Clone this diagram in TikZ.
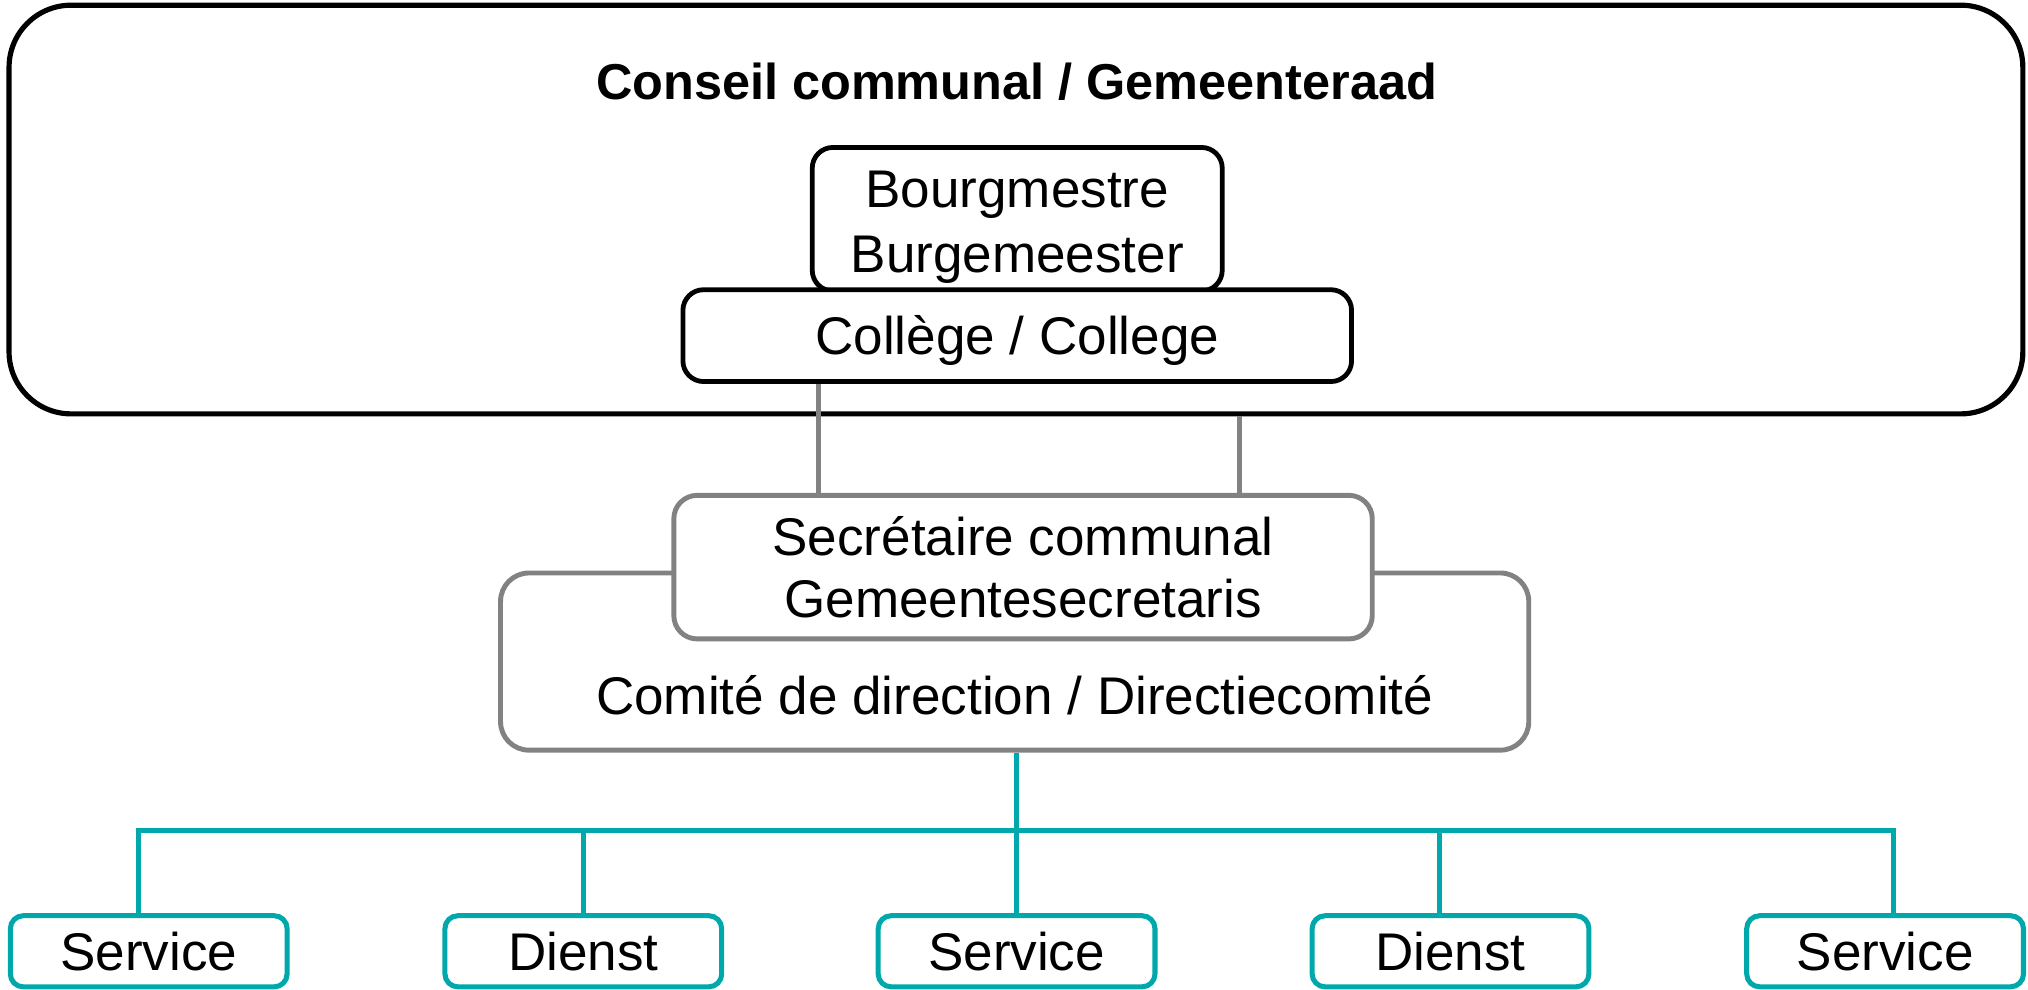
\documentclass[tikz,border=0pt]{standalone}
\usepackage{fontspec}
\setmainfont{Liberation Sans}
\definecolor{linegray}{RGB}{130,130,130}
\definecolor{tealline}{RGB}{0,168,172}
\begin{document}
\begin{tikzpicture}[x=1pt,y=-1pt,
  every node/.style={font=\fontsize{41}{50}\selectfont},
  council/.style={draw=black, line width=4pt, rounded corners=48pt,
    minimum width=1557pt, minimum height=316pt, inner sep=0pt},
  blackbox/.style={draw=black, fill=white, line width=3.7pt, rounded corners=16pt, inner sep=0pt},
  graybox/.style={draw=linegray, fill=white, line width=3.8pt, rounded corners=18pt, inner sep=0pt},
  servicebox/.style={draw=tealline, fill=white, line width=3.9pt, rounded corners=10pt,
    minimum width=214pt, minimum height=55pt, inner sep=0pt, text height=29.3pt, text depth=0pt},
  txt/.style={anchor=base, inner sep=0pt},
  grayconn/.style={draw=linegray, line width=3.8pt},
  tealconn/.style={draw=tealline, line width=3.9pt},
]
\useasboundingbox (0,0) rectangle (1568,765);

% council frame and its title
\node[council] (council) at (785.5,162) {};
\node[txt, font=\bfseries\fontsize{39}{46}\selectfont] (title) at (786,77) {Conseil communal / Gemeenteraad};

% mayor and college
\node[blackbox, minimum width=317pt, minimum height=111pt] (mayor) at (786.5,169.5) {};
\node[txt] (mayor1) at (786.5,160.5) {Bourgmestre};
\node[txt] (mayor2) at (786.5,210.5) {Burgemeester};
\node[blackbox, minimum width=517pt, minimum height=71pt, text height=29.3pt, text depth=0pt] (college) at (786.5,259.5) {Collège / College};

% links down to the secretary
\coordinate (gl) at (633,0);
\coordinate (gr) at (958,0);
\node[graybox, minimum width=795pt, minimum height=137pt, rounded corners=22pt] (comite) at (784.5,511.5) {};
\node[txt] (comitetxt) at (784.5,552.5) {Comité de direction / Directiecomité};
\node[graybox, minimum width=540pt, minimum height=111pt] (secretary) at (791,438.5) {};
\node[txt] (sec1) at (791,429.5) {Secrétaire communal};
\node[txt] (sec2) at (791,477.5) {Gemeentesecretaris};
\draw[grayconn] (college.south -| gl) -- (secretary.north -| gl);
\draw[grayconn] (council.south -| gr) -- (secretary.north -| gr);

% services
\node[servicebox] (s1) at (115,735.5) {Service};
\node[servicebox] (s2) at (451,735.5) {Dienst};
\node[servicebox] (s3) at (786,735.5) {Service};
\node[servicebox] (s4) at (1121.5,735.5) {Dienst};
\node[servicebox] (s5) at (1457.5,735.5) {Service};

\coordinate (busL) at (107,642);
\coordinate (d2) at (451,642);
\coordinate (d3) at (786,642);
\coordinate (d4) at (1113,642);
\coordinate (busR) at (1464,642);
\draw[tealconn] (s1.north -| busL) -- (busL) -- (busR) -- (s5.north -| busR);
\draw[tealconn] (comite.south -| d3) -- (s3.north -| d3);
\draw[tealconn] (d2) -- (s2.north -| d2);
\draw[tealconn] (d4) -- (s4.north -| d4);
\end{tikzpicture}
\end{document}
